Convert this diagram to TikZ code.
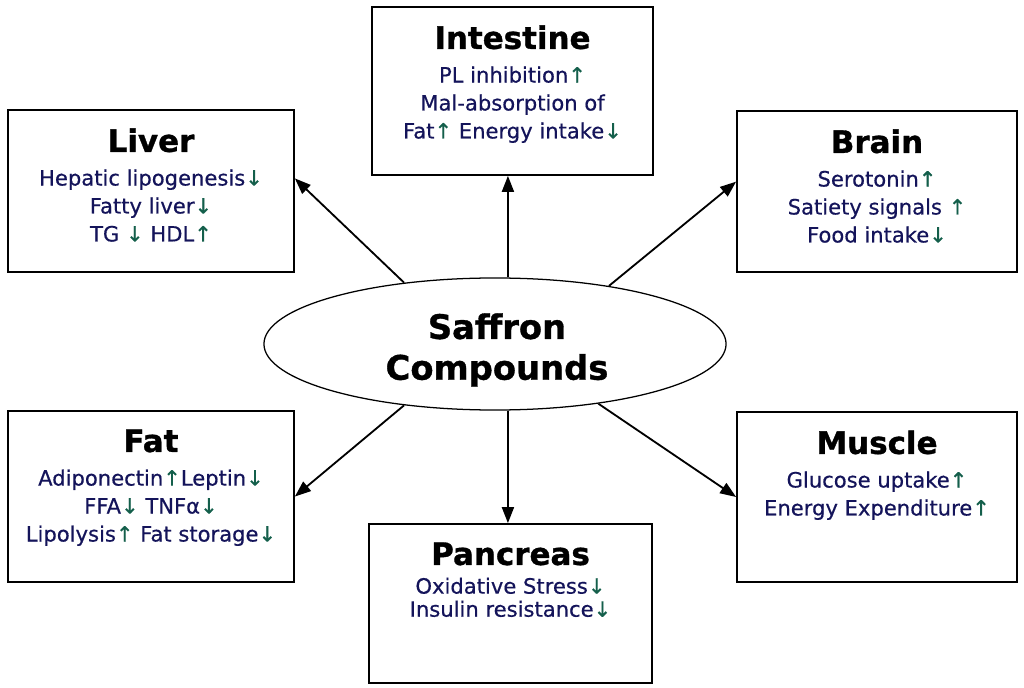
\documentclass[tikz,border=0pt]{standalone}
\usepackage{fontspec}
\setmainfont{DejaVu Sans}[UprightFeatures={FakeBold=0.5},BoldFeatures={FakeBold=1}]
\usepackage{tikz}
\usetikzlibrary{positioning,shapes.geometric,arrows.meta}
\definecolor{txtblue}{RGB}{20,20,90}
\definecolor{arrgreen}{RGB}{20,95,75}
\newcommand{\incr}{{\color{arrgreen}↑}}
\newcommand{\decr}{{\color{arrgreen}↓}}
\newcommand{\orgtitle}[1]{{\color{black}\bfseries\fontsize{22}{26}\selectfont #1}}

\begin{document}
\begin{tikzpicture}[x=0.025cm,y=-0.025cm,
  organ/.style={draw,rectangle,line width=1.2pt,inner sep=0pt},
  facts/.style={align=center,inner sep=0pt,text=txtblue,font=\fontsize{15}{19.9}\selectfont},
  >={Triangle[length=4mm,width=3mm]}]
  \useasboundingbox (0,0) rectangle (1024,688);
  \node[organ,minimum width=7.15cm,minimum height=4.05cm] (liver) at (151,191) {};
  \node[organ,minimum width=7.025cm,minimum height=4.2cm] (intestine) at (512.5,91) {};
  \node[organ,minimum width=7cm,minimum height=4.025cm] (brain) at (877,191.5) {};
  \node[organ,minimum width=7.15cm,minimum height=4.275cm] (fat) at (151,496.5) {};
  \node[organ,minimum width=7cm,minimum height=4.25cm] (muscle) at (877,497) {};
  \node[organ,minimum width=7.075cm,minimum height=3.975cm] (pancreas) at (510.5,603.5) {};
  \node[ellipse,draw,line width=0.9pt,minimum width=11.55cm,minimum height=3.3cm] (sc) at (495,344) {};
  \node[align=center,font=\bfseries\fontsize{24}{29}\selectfont] (sc-t) at (497,350) {Saffron\\Compounds};

  \node[facts,below=13.5pt of liver.north] (liver-t)
    {\orgtitle{Liver}\\[4pt] Hepatic lipogenesis\decr\\ Fatty liver\decr\\ TG \decr\ HDL\incr};
  \node[facts,below=13.5pt of intestine.north] (intestine-t)
    {\orgtitle{Intestine}\\[4pt] PL inhibition\incr\\ Mal-absorption of\\ Fat\incr\ Energy intake\decr};
  \node[facts,below=13.5pt of brain.north] (brain-t)
    {\orgtitle{Brain}\\[4pt] Serotonin\incr\\ Satiety signals \incr\\ Food intake\decr};
  \node[facts,below=13.5pt of fat.north] (fat-t)
    {\orgtitle{Fat}\\[4pt] Adiponectin\incr Leptin\decr\\ FFA\decr\ TNFα\decr\\ Lipolysis\incr\ Fat storage\decr};
  \node[facts,below=13.5pt of muscle.north] (muscle-t)
    {\orgtitle{Muscle}\\[4pt] Glucose uptake\incr\\ Energy Expenditure\incr};
  \node[facts,font=\fontsize{15}{16.4}\selectfont,below=13.5pt of pancreas.north] (pancreas-t)
    {\orgtitle{Pancreas}\\[4pt] Oxidative Stress\decr\\ Insulin resistance\decr};

  \path[->,line width=1.3pt]
    (sc.146) edge (liver.5)
    (sc.79) edge (sc.79 |- intestine.south)
    (sc.27) edge (brain.176)
    (sc.214) edge (fat.east)
    (sc.281) edge (sc.281 |- pancreas.north)
    (sc.330) edge (muscle.west);
\end{tikzpicture}
\end{document}
